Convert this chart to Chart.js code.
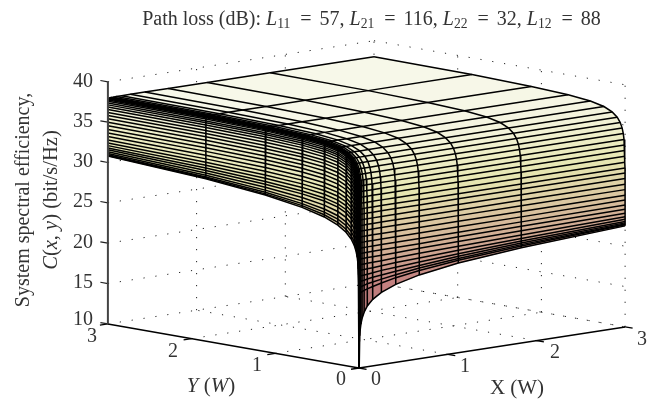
<!DOCTYPE html>
<html>
<head>
<meta charset="utf-8">
<script src="https://cdn.jsdelivr.net/npm/chart.js@4"></script>
<style>
  html, body { margin: 0; padding: 0; background: #fff; }
  canvas { display: block; }
</style>
</head>
<body>
<canvas id="chart" width="661" height="400"></canvas>
<script>
// Power levels of the mesh lines (W)
const xLevels = [3, 1.83, 1.12, 0.68, 0.415, 0.253, 0.155, 0.094, 0.058, 0.035, 0.0215, 0.013, 0.008, 0.0049, 0.003, 0.0018,
  0.0011, 0.00075, 0.00052, 0.00036, 0.00025, 0.00017, 0.00012, 8.3e-5, 5.8e-5, 4e-5, 2.8e-5, 1.9e-5, 1.3e-5, 9e-6, 6.2e-6, 4.3e-6, 3e-6, 1.8e-6, 1e-6, 5e-7, 2e-7, 0];
const yLevels = [3, 1.83, 1.12, 0.68, 0.415, 0.253, 0.155, 0.094, 0.058, 0.035, 0.0215, 0.013, 0.008, 0.0049, 0.003, 0.0018, 0.0011,
  7e-4, 4.3e-4, 2.65e-4, 1.65e-4, 1e-4, 6.2e-5, 3.8e-5, 2.4e-5, 1.5e-5, 9.2e-6, 5.7e-6, 3.5e-6, 2.2e-6, 1.35e-6, 8e-7, 0];

// C(x, y) in bit/s/Hz, one row per xLevels entry. Rows for tiny x stop at y = 0.0011,
// below that they sit inside the black spike anyway.
const zRows = [
  [38.02,37.93,37.76,37.53,37.23,36.85,36.36,35.81,35.22,34.57,33.92,33.21,32.53,31.84,31.14,30.40,29.70,29.06,28.38,27.68,27.01,26.31,25.72,25.11,24.58,24.09,23.66,23.33,23.07,22.89,22.75,22.66,22.52],
  [38.02,37.93,37.76,37.53,37.23,36.85,36.36,35.81,35.22,34.57,33.92,33.21,32.53,31.84,31.14,30.40,29.70,29.06,28.36,27.67,26.99,26.29,25.62,25.00,24.45,23.89,23.38,22.95,22.62,22.37,22.18,22.02,21.80],
  [38.02,37.93,37.76,37.53,37.23,36.85,36.36,35.81,35.22,34.57,33.92,33.21,32.53,31.84,31.14,30.40,29.70,29.06,28.36,27.66,26.98,26.27,25.60,24.92,24.35,23.78,23.19,22.68,22.25,21.94,21.67,21.46,21.10],
  [38.02,37.93,37.76,37.53,37.23,36.85,36.36,35.81,35.22,34.57,33.92,33.21,32.53,31.84,31.14,30.40,29.70,29.05,28.36,27.66,26.97,26.26,25.58,24.90,24.25,23.68,23.07,22.48,21.98,21.56,21.23,20.93,20.38],
  [38.02,37.93,37.76,37.53,37.23,36.85,36.36,35.81,35.22,34.57,33.92,33.21,32.53,31.84,31.14,30.40,29.70,29.05,28.35,27.66,26.97,26.25,25.57,24.88,24.23,23.58,22.96,22.37,21.78,21.29,20.84,20.49,19.66],
  [38.02,37.93,37.76,37.53,37.23,36.85,36.36,35.81,35.22,34.57,33.92,33.21,32.53,31.84,31.14,30.40,29.70,29.05,28.35,27.65,26.97,26.25,25.56,24.87,24.21,23.55,22.87,22.25,21.67,21.10,20.58,20.11,18.95],
  [38.01,37.92,37.75,37.52,37.22,36.84,36.35,35.80,35.21,34.56,33.91,33.20,32.52,31.83,31.13,30.39,29.69,29.04,28.34,27.64,26.95,26.24,25.55,24.85,24.19,23.53,22.84,22.16,21.54,20.98,20.39,19.84,18.24],
  [38.01,37.92,37.75,37.52,37.22,36.84,36.35,35.80,35.21,34.56,33.91,33.20,32.52,31.83,31.13,30.39,29.69,29.04,28.34,27.64,26.95,26.23,25.55,24.85,24.18,23.52,22.82,22.14,21.46,20.86,20.29,19.64,17.52],
  [38.00,37.91,37.74,37.51,37.21,36.83,36.34,35.79,35.20,34.55,33.90,33.19,32.51,31.82,31.12,30.38,29.68,29.03,28.33,27.63,26.94,26.22,25.53,24.84,24.17,23.50,22.80,22.11,21.42,20.78,20.15,19.52,16.82],
  [37.99,37.90,37.73,37.50,37.20,36.82,36.33,35.78,35.19,34.54,33.89,33.18,32.50,31.81,31.11,30.37,29.67,29.03,28.33,27.63,26.94,26.22,25.53,24.83,24.17,23.50,22.79,22.10,21.41,20.76,20.08,19.40,16.10],
  [37.98,37.89,37.72,37.49,37.19,36.81,36.32,35.77,35.18,34.53,33.88,33.17,32.49,31.80,31.10,30.36,29.66,29.01,28.31,27.61,26.92,26.20,25.51,24.81,24.14,23.47,22.77,22.07,21.38,20.72,20.03,19.30,15.39],
  [37.95,37.86,37.69,37.46,37.16,36.78,36.29,35.74,35.15,34.50,33.85,33.14,32.46,31.77,31.07,30.33,29.63,28.99,28.29,27.59,26.90,26.18,25.49,24.79,24.12,23.45,22.74,22.05,21.35,20.69,20.00,19.26,14.67],
  [37.91,37.82,37.65,37.42,37.12,36.74,36.25,35.70,35.11,34.46,33.81,33.10,32.42,31.73,31.03,30.29,29.59,28.93,28.23,27.53,26.84,26.12,25.43,24.73,24.06,23.39,22.68,21.99,21.29,20.62,19.93,19.18,13.97],
  [37.85,37.76,37.59,37.36,37.06,36.68,36.19,35.64,35.05,34.40,33.75,33.04,32.36,31.67,30.97,30.23,29.53,28.88,28.18,27.48,26.79,26.07,25.38,24.68,24.01,23.34,22.63,21.93,21.23,20.57,19.87,19.12,13.26],
  [37.75,37.66,37.49,37.26,36.96,36.58,36.09,35.54,34.95,34.30,33.65,32.94,32.26,31.57,30.87,30.13,29.43,28.77,28.07,27.37,26.68,25.96,25.27,24.57,23.90,23.23,22.52,21.82,21.12,20.46,19.76,19.01,12.55],
  [37.60,37.51,37.34,37.11,36.81,36.43,35.94,35.39,34.80,34.15,33.50,32.79,32.11,31.42,30.72,29.98,29.28,28.62,27.92,27.22,26.53,25.81,25.12,24.42,23.75,23.08,22.37,21.67,20.97,20.30,19.60,18.85,11.81],
  [37.37,37.28,37.11,36.88,36.58,36.20,35.71,35.16,34.57,33.92,33.27,32.56,31.88,31.19,30.49,29.75,29.05],
  [37.14,37.05,36.88,36.65,36.35,35.97,35.48,34.93,34.34,33.69,33.04,32.33,31.65,30.96,30.26,29.52,28.82],
  [36.87,36.78,36.61,36.38,36.08,35.70,35.21,34.66,34.07,33.42,32.77,32.06,31.38,30.69,29.99,29.25,28.55],
  [36.56,36.47,36.30,36.07,35.77,35.39,34.90,34.35,33.76,33.11,32.46,31.75,31.07,30.38,29.68,28.94,28.24],
  [36.20,36.11,35.94,35.71,35.41,35.03,34.54,33.99,33.40,32.75,32.10,31.39,30.71,30.02,29.32,28.58,27.88],
  [35.82,35.72,35.53,35.29,34.99,34.61,34.12,33.57,32.98,32.33,31.68,30.97,30.29,29.60,28.90,28.16,27.46],
  [35.43,35.33,35.14,34.90,34.60,34.21,33.72,33.17,32.58,31.93,31.28,30.57,29.89,29.20,28.50,27.76,27.06],
  [34.99,34.88,34.70,34.45,34.15,33.76,33.27,32.72,32.13,31.48,30.83,30.12,29.44,28.75,28.05,27.31,26.61],
  [34.55,34.43,34.24,33.99,33.68,33.29,32.80,32.25,31.66,31.01,30.36,29.65,28.97,28.28,27.58,26.84,26.14],
  [34.10,33.96,33.76,33.51,33.20,32.81,32.31,31.76,31.17,30.52,29.87,29.16,28.48,27.79,27.09,26.35,25.65],
  [33.66,33.51,33.30,33.04,32.72,32.33,31.84,31.28,30.68,30.03,29.37,28.66,27.98,27.29,26.59,25.85,25.15],
  [33.21,33.03,32.80,32.53,32.20,31.81,31.31,30.76,30.16,29.50,28.85,28.14,27.46,26.77,26.07,25.33,24.63],
  [32.80,32.58,32.33,32.04,31.71,31.31,30.80,30.25,29.65,29.00,28.34,27.63,26.95,26.26,25.56,24.82,24.12],
  [32.43,32.17,31.88,31.58,31.23,30.82,30.32,29.76,29.16,28.50,27.85,27.14,26.46,25.77,25.07,24.33,23.63],
  [32.09,31.79,31.47,31.14,30.77,30.35,29.83,29.27,28.67,28.01,27.36,26.64,25.96,25.27,24.57,23.83,23.13],
  [31.80,31.44,31.08,30.70,30.32,29.88,29.36,28.79,28.19,27.53,26.88,26.17,25.49,24.80,24.10,23.36,22.66],
  [31.57,31.15,30.74,30.34,29.93,29.47,28.94,28.36,27.75,27.09,26.43,25.73,25.05,24.36,23.65,22.92,22.20],
  [31.32,30.82,30.35,29.89,29.43,28.93,28.38,27.78,27.17,26.50,25.83,25.12,24.43,23.74,23.03,22.29,21.58],
  [31.11,30.54,30.00,29.47,28.95,28.41,27.83,27.22,26.60,25.92,25.24,24.53,23.84,23.14,22.43,21.69,20.98],
  [30.97,30.34,29.74,29.13,28.56,27.98,27.38,26.74,26.09,25.39,24.72,24.00,23.30,22.59,21.88,21.12,20.40],
  [30.88,30.20,29.54,28.88,28.23,27.58,26.91,26.22,25.55,24.84,24.15,23.43,22.74,22.04,21.33,20.59,19.88],
  [30.81,30.10,29.39,28.67,27.96,27.25,26.54,25.82,25.12,24.39,23.69,22.96,22.26,21.56,20.85,20.11,19.40,18.75,18.05,17.35,16.66,15.94,15.25,14.55,13.88,13.21,12.50,11.80,11.10,10.43,10,10,10]
];

const zTicks = [10, 15, 20, 25, 30, 35, 40];
const xTicks = [0, 1, 2, 3];
const yTicks = [0, 1, 2, 3];
const zMin = 10, zMax = 40, xMax = 3, yMax = 3;

// MATLAB "pink" colormap stops, top end pulled towards the cream of the plateau
const pinkStops = [
  [0, 30, 0, 0], [0.125, 115, 75, 75], [0.25, 159, 104, 104], [0.375, 195, 128, 128], [0.5, 208, 170, 147],
  [0.625, 221, 204, 164], [0.75, 231, 231, 178], [0.875, 240, 240, 205], [1, 248, 249, 238]
];

// fixed view of the 3D box, returns scale values (the scales run 0..661 and 0..400)
function project(x, y, z) {
  return {
    x: 359 + 88.7 * x - 83.7 * y,
    y: 368 - 13.7 * x - 14.7 * y - 8.07 * (z - zMin)
  };
}

function pinkColor(z) {
  const t = Math.min(1, Math.max(0, (z - 8.5) / 30));
  let k = 0;
  while (k < pinkStops.length - 2 && t > pinkStops[k + 1][0]) k++;
  const a = pinkStops[k], b = pinkStops[k + 1];
  const f = (t - a[0]) / (b[0] - a[0]);
  const mix = n => Math.round(a[n] + (b[n] - a[n]) * f);
  return `rgb(${mix(1)},${mix(2)},${mix(3)})`;
}

function line(points, color, width, dash) {
  return {
    data: points, showLine: true, pointRadius: 0, borderColor: color, borderWidth: width,
    borderDash: dash || [], fill: false, tension: 0, clip: false
  };
}

// ----- surface
const meshLines = [];
const facets = [];

zRows.forEach((row, i) => {
  meshLines.push(line(row.map((z, j) => project(xLevels[i], yLevels[j], z)), '#000', 1.5));
});
yLevels.forEach((y, j) => {
  const pts = [];
  zRows.forEach((row, i) => { if (j < row.length) pts.push(project(xLevels[i], y, row[j])); });
  meshLines.push(line(pts, '#000', 1.5));
});

for (let i = 0; i < zRows.length - 1; i++) {
  const n = Math.min(zRows[i].length, zRows[i + 1].length);
  for (let j = 0; j < n - 1; j++) {
    const corners = [
      [xLevels[i], yLevels[j], zRows[i][j]],
      [xLevels[i + 1], yLevels[j], zRows[i + 1][j]],
      [xLevels[i + 1], yLevels[j + 1], zRows[i + 1][j + 1]],
      [xLevels[i], yLevels[j + 1], zRows[i][j + 1]]
    ];
    const pts = corners.map(c => project(c[0], c[1], c[2]));
    pts.push(pts[0]);
    const color = pinkColor((corners[0][2] + corners[1][2] + corners[2][2] + corners[3][2]) / 4);
    facets.push({
      data: pts, showLine: true, pointRadius: 0, borderColor: color, borderWidth: 0.5,
      backgroundColor: color, fill: 'shape', tension: 0, clip: false
    });
  }
}

// ----- box: dotted grid on the two back walls and the floor
const gridColor = '#222';
const gridDash = [1.2, 10.8];
const gridLines = [];
zTicks.forEach(z => {
  gridLines.push(line([project(0, yMax, z), project(xMax, yMax, z)], gridColor, 1, gridDash));
  gridLines.push(line([project(xMax, yMax, z), project(xMax, 0, z)], gridColor, 1, gridDash));
});
xTicks.slice(1).forEach(x => {
  gridLines.push(line([project(x, yMax, zMin), project(x, yMax, zMax)], gridColor, 1, gridDash));
  gridLines.push(line([project(x, 0, zMin), project(x, yMax, zMin)], gridColor, 1, gridDash));
});
yTicks.slice(1, 3).forEach(y => {
  gridLines.push(line([project(xMax, y, zMin), project(xMax, y, zMax)], gridColor, 1, gridDash));
  gridLines.push(line([project(0, y, zMin), project(xMax, y, zMin)], gridColor, 1, gridDash));
});
gridLines.push(line([project(xMax, 0, zMin), project(xMax, 0, zMax)], gridColor, 1, gridDash));

// ----- solid axes and ticks
const axisLines = [
  line([project(0, yMax, zMin), project(0, yMax, zMax)], '#444', 2),
  line([project(0, 0, zMin), project(0, yMax, zMin)], '#000', 1.5),
  line([project(0, 0, zMin), project(xMax, 0, zMin)], '#000', 1.5)
];
zTicks.forEach(z => axisLines.push(line([project(0, yMax, z), project(0, yMax + 0.09, z)], '#222', 1.2)));
xTicks.forEach(x => axisLines.push(line([project(x, 0, zMin), project(x, -0.09, zMin)], '#000', 1.3)));
yTicks.forEach(y => axisLines.push(line([project(0, y, zMin), project(-0.09, y, zMin)], '#000', 1.3)));

// ----- text
const textColor = '#333';
const serif = '"Liberation Serif", serif';

function drawRuns(ctx, runs, x, y, size) {
  runs.forEach(r => {
    const s = r.sub ? size * 0.68 : size;
    ctx.font = `${r.italic ? 'italic ' : ''}${s}px ${serif}`;
    ctx.fillText(r.text, x, y + (r.sub ? size * 0.2 : 0));
    x += ctx.measureText(r.text).width + (r.pad || 0);
  });
}

function runsWidth(ctx, runs, size) {
  let w = 0;
  runs.forEach(r => {
    const s = r.sub ? size * 0.68 : size;
    ctx.font = `${r.italic ? 'italic ' : ''}${s}px ${serif}`;
    w += ctx.measureText(r.text).width + (r.pad || 0);
  });
  return w;
}

const titleRuns = [
  { text: 'Path loss (dB): ' }, { text: 'L', italic: true }, { text: '11', sub: true, pad: 5 }, { text: ' = ', pad: 3 }, { text: '57, ' },
  { text: 'L', italic: true }, { text: '21', sub: true, pad: 5 }, { text: ' = ', pad: 3 }, { text: '116, ' },
  { text: 'L', italic: true }, { text: '22', sub: true, pad: 5 }, { text: ' = ', pad: 3 }, { text: '32, ' },
  { text: 'L', italic: true }, { text: '12', sub: true, pad: 5 }, { text: ' = ', pad: 3 }, { text: '88' }
];
const yLabel2Runs = [
  { text: 'C', italic: true }, { text: '(' }, { text: 'x', italic: true }, { text: ', ' },
  { text: 'y', italic: true }, { text: ') (bit/s/Hz)' }
];
const yAxisRuns = [{ text: 'Y', italic: true }, { text: ' (' }, { text: 'W', italic: true }, { text: ')' }];
const xAxisRuns = [{ text: 'X (W)' }];

const zTickY = { 10: 320, 15: 283, 20: 243, 25: 202, 30: 162, 35: 122, 40: 82 };
const xTickPos = [[376, 380], [465, 367], [555, 353], [642, 340]];
const yTickPos = [[341, 380], [257, 366], [173, 352], [92, 337]];

const labelsPlugin = {
  id: 'labels',
  afterDraw(chart) {
    const ctx = chart.ctx;
    ctx.save();
    ctx.fillStyle = textColor;
    ctx.textBaseline = 'middle';
    ctx.textAlign = 'left';

    drawRuns(ctx, titleRuns, 371.5 - runsWidth(ctx, titleRuns, 20) / 2, 20, 20);

    ctx.font = `20px ${serif}`;
    ctx.textAlign = 'right';
    zTicks.forEach(z => ctx.fillText(String(z), 93, zTickY[z]));
    ctx.textAlign = 'center';
    xTicks.forEach((x, i) => ctx.fillText(String(x), xTickPos[i][0], xTickPos[i][1]));
    yTicks.forEach((y, i) => ctx.fillText(String(y), yTickPos[i][0], yTickPos[i][1]));

    ctx.textAlign = 'left';
    drawRuns(ctx, xAxisRuns, 517 - runsWidth(ctx, xAxisRuns, 21) / 2, 388, 21);
    drawRuns(ctx, yAxisRuns, 211 - runsWidth(ctx, yAxisRuns, 21) / 2, 386, 21);

    ctx.save();
    ctx.translate(24, 200);
    ctx.rotate(-Math.PI / 2);
    ctx.font = `20px ${serif}`;
    ctx.textAlign = 'center';
    ctx.fillText('System spectral efficiency,', 0, 0);
    ctx.restore();

    ctx.save();
    ctx.translate(52, 200);
    ctx.rotate(-Math.PI / 2);
    ctx.textAlign = 'left';
    drawRuns(ctx, yLabel2Runs, -runsWidth(ctx, yLabel2Runs, 20.5) / 2, 0, 20.5);
    ctx.restore();

    ctx.restore();
  }
};

// first dataset is drawn last
new Chart(document.getElementById('chart'), {
  type: 'scatter',
  data: { datasets: [...axisLines, ...meshLines, ...facets, ...gridLines] },
  options: {
    responsive: false,
    animation: false,
    events: [],
    layout: { padding: 0 },
    scales: {
      x: { type: 'linear', min: 0, max: 661, display: false },
      y: { type: 'linear', min: 0, max: 400, reverse: true, display: false }
    },
    plugins: { legend: { display: false }, tooltip: { enabled: false } }
  },
  plugins: [labelsPlugin]
});
</script>
</body>
</html>
